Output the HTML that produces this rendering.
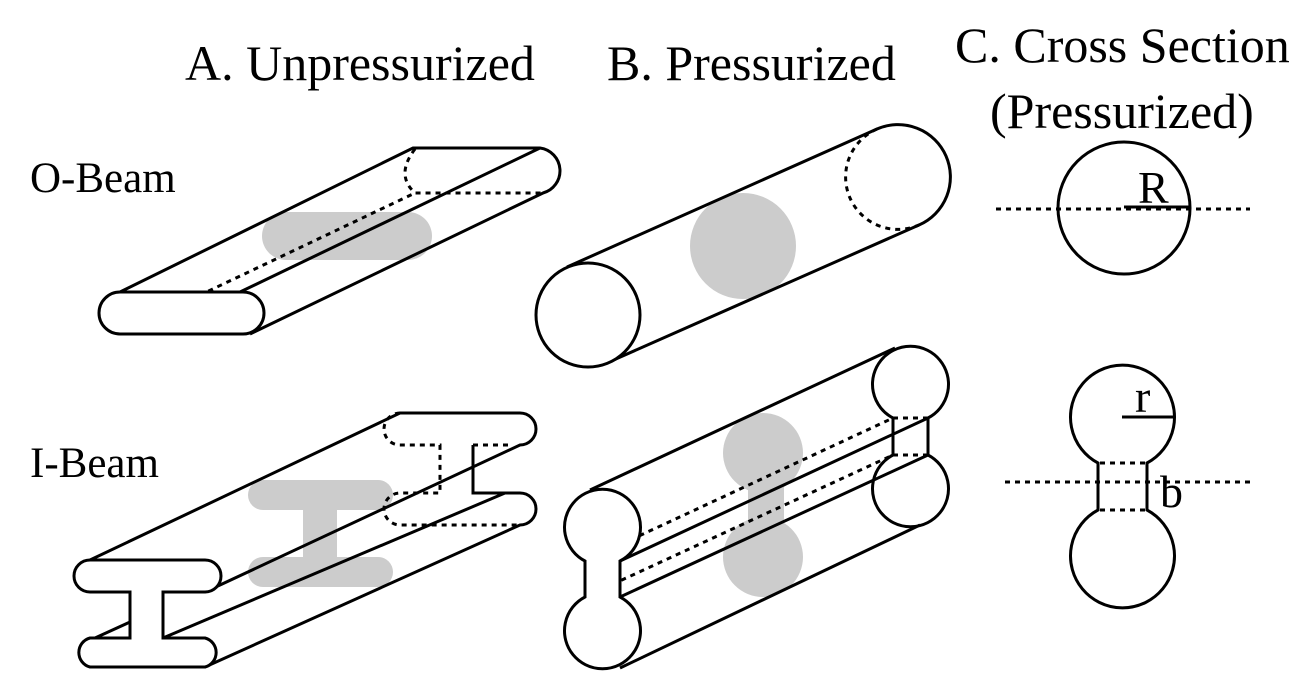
<!DOCTYPE html>
<html><head><meta charset="utf-8"><style>
html,body{margin:0;padding:0;background:#fff;width:1301px;height:700px;overflow:hidden}
svg{display:block}
text{font-family:"Liberation Serif",serif;fill:#000}
.s{fill:none;stroke:#000;stroke-width:3}
.d{fill:none;stroke:#000;stroke-width:3;stroke-dasharray:5 5}
.w{fill:#fff;stroke:#000;stroke-width:3}
.g{fill:#cccccc;stroke:none}
</style></head><body>
<svg width="1301" height="700" viewBox="0 0 1301 700">
<text x="185" y="80" font-size="50">A. Unpressurized</text>
<text x="607" y="80" font-size="50">B. Pressurized</text>
<text x="955" y="62" font-size="50">C. Cross Section</text>
<text x="990" y="128" font-size="50">(Pressurized)</text>
<text x="30" y="192" font-size="43">O-Beam</text>
<text x="30" y="477" font-size="43">I-Beam</text>

<!-- O-beam unpressurized -->
<g>
<rect class="g" x="262" y="212" width="170" height="48" rx="24"/>
<path class="s" d="M120,292 L413,148 L540,148 A23,23 0 0 1 543,193 L250,334"/>
<path class="s" d="M240,292 L540,148"/>
<path class="d" d="M415,149 Q395,175 415,193 L543,193"/>
<path class="d" d="M118,334 L415,193"/>
<path class="w" d="M120,292 L243,292 A21,21 0 0 1 243,334 L120,334 A21,21 0 0 1 120,292 Z"/>
</g>

<!-- O-beam pressurized -->
<g>
<circle class="g" cx="743" cy="246" r="53"/>
<path class="s" d="M567,267 L877,129 A52,52 0 1 1 919,225 L609,362"/>
<path class="d" d="M877,129 A52,52 0 0 0 919,225"/>
<circle class="w" cx="588" cy="315" r="52"/>
</g>

<!-- O cross section -->
<g>
<circle class="s" cx="1124" cy="208" r="66"/>
<line class="d" x1="996" y1="209" x2="1250" y2="209"/>
<line class="s" x1="1124" y1="207" x2="1190" y2="207"/>
<text x="1138" y="203" font-size="46">R</text>
</g>

<!-- I-beam unpressurized -->
<g>
<rect class="g" x="248" y="480" width="145" height="30" rx="15"/>
<rect class="g" x="303" y="495" width="34" height="75"/>
<rect class="g" x="248" y="557" width="145" height="30" rx="15"/>
<path class="d" d="M400,413 A15,15 0 0 0 400,445 L440,445 L440,493 L400,493 A15,15 0 0 0 400,525 L520,525"/>
<path class="d" d="M473,445 L510,445"/>
<path class="s" d="M90,560 L400,413 L520,413 A16,16 0 0 1 520,445 L205,592"/>
<path class="s" d="M473,445 L473,493 L520,493 A16,16 0 0 1 520,525 L205,667"/>
<path class="s" d="M163,638 L505,493"/>
<path class="s" d="M95,638 L130,622"/>
<path class="w" d="M90,560 L205,560 A16,16 0 0 1 205,592 L163,592 L163,638 L205,638 A15,15 0 0 1 205,667 L90,667 A15,15 0 0 1 90,638 L130,638 L130,592 L90,592 A16,16 0 0 1 90,560 Z"/>
</g>

<!-- I-beam pressurized -->
<g>
<circle class="g" cx="763" cy="453" r="40"/>
<rect class="g" x="748" y="480" width="36" height="50"/>
<circle class="g" cx="763" cy="557" r="40"/>
<path class="s" d="M590,490 L895,348"/>
<path class="s" d="M620,668 L920,525"/>
<path class="s" d="M620,561 L928,418 M620,597 L928,455"/>
<path class="d" d="M585,561 L893,418 M585,597 L893,455 M893,418 L928,418 M893,455 L928,455"/>
<path class="s" d="M893,418 A38,38 0 1 1 928,418 L928,455 A38,38 0 1 1 893,455 Z" fill="#fff"/>
<path class="w" d="M585,561 A38,38 0 1 1 620,561 L620,597 A38,38 0 1 1 585,597 Z"/>
</g>

<!-- I cross section -->
<g>
<path class="s" d="M1098,463 A52,52 0 1 1 1147,463 L1147,510 A52,52 0 1 1 1098,510 Z"/>
<path class="d" d="M1100,463 L1145,463 M1100,510 L1145,510"/>
<line class="d" x1="1005" y1="482" x2="1250" y2="482"/>
<line class="s" x1="1122" y1="417" x2="1174" y2="417"/>
<text x="1135" y="412" font-size="46">r</text>
<text x="1160" y="507" font-size="46">b</text>
</g>
</svg>
</body></html>
